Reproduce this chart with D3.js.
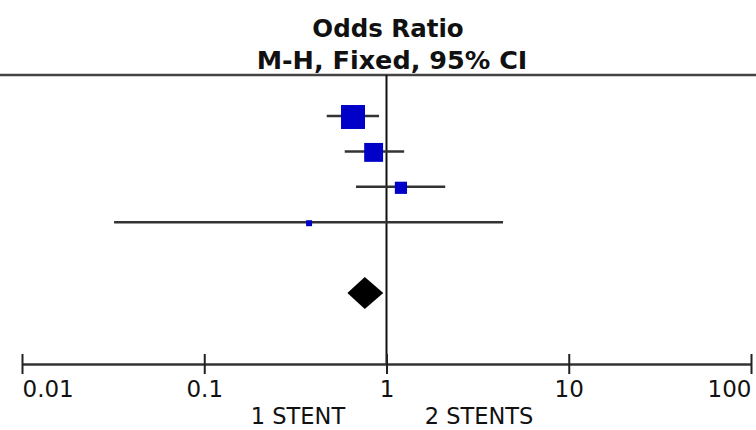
<!DOCTYPE html>
<html>
<head>
<meta charset="utf-8">
<script src="https://cdn.jsdelivr.net/npm/d3@7"></script>
<style>
  body { margin: 0; background: #fff; }
  svg text { font-family: "DejaVu Sans", sans-serif; fill: #111; }
</style>
</head>
<body>
<div id="viz"></div>
<script>
// study rows (odds ratio, 95% CI, weight %)
var studies = [1, 2, 3, 4];
var oddsRatio = [0.655, 0.85, 1.20, 0.376];
var lower = [0.47, 0.59, 0.68, 0.032];
var upper = [0.91, 1.25, 2.10, 4.36];
var weight = [51.5, 32.0, 13.3, 3.2];

// pooled estimate
var pooled = {or: 0.76, lo: 0.61, hi: 0.96};

var tickValues = [0.01, 0.1, 1, 10, 100];
var tickLabels = ["0.01", "0.1", "1", "10", "100"];
var favours = ["1 STENT", "2 STENTS"];

var w = 756, h = 430;

var svg = d3.select("#viz")
            .append("svg")
            .attr("width", w)
            .attr("height", h);

var x = d3.scaleLog().domain([0.01, 100]).range([22, 751]);
var y = d3.scaleLinear().domain([0, 5]).range([116, 293]);
var size = d3.scaleSqrt().domain([0, 100]).range([0, 33.4]);

var axisY = 364;
var headY = 75;

// titles
svg.append("text")
    .attr("x", 388).attr("y", 37)
    .attr("text-anchor", "middle")
    .attr("font-size", "24.5px")
    .attr("font-weight", "bold")
    .text("Odds Ratio");

svg.append("text")
    .attr("x", 392).attr("y", 69)
    .attr("text-anchor", "middle")
    .attr("font-size", "25.5px")
    .attr("font-weight", "bold")
    .text("M-H, Fixed, 95% CI");

// header rule
svg.append("line")
    .attr("x1", 0).attr("x2", w)
    .attr("y1", headY).attr("y2", headY)
    .attr("stroke", "#444")
    .attr("stroke-width", 2.5);

// line of no effect
svg.append("line")
    .attr("x1", x(1)).attr("x2", x(1))
    .attr("y1", headY).attr("y2", axisY)
    .attr("stroke", "#111")
    .attr("stroke-width", 2);

// confidence intervals
svg.selectAll("line.ci")
    .data(studies)
    .enter()
    .append("line")
    .attr("class", "ci")
    .attr("x1", function(d, i) { return x(lower[i]); })
    .attr("x2", function(d, i) { return x(upper[i]); })
    .attr("y1", function(d, i) { return y(i); })
    .attr("y2", function(d, i) { return y(i); })
    .attr("stroke", "#333")
    .attr("stroke-width", 2.5);

// weight squares
svg.selectAll("rect.box")
    .data(studies)
    .enter()
    .append("rect")
    .attr("class", "box")
    .attr("x", function(d, i) { return x(oddsRatio[i]) - size(weight[i]) / 2; })
    .attr("y", function(d, i) { return y(i) - size(weight[i]) / 2 + 1; })
    .attr("width", function(d, i) { return size(weight[i]); })
    .attr("height", function(d, i) { return size(weight[i]); })
    .attr("fill", "#0000c8");

// pooled diamond
var dy = y(5), hh = 16;
svg.append("polygon")
    .attr("points", [
        [x(pooled.lo), dy],
        [x(pooled.or), dy - hh],
        [x(pooled.hi), dy],
        [x(pooled.or), dy + hh]
    ].join(" "))
    .attr("fill", "#000");

// axis
var axis = d3.axisBottom(x)
    .tickValues(tickValues)
    .tickSize(0)
    .tickFormat(function(d, i) { return tickLabels[i]; });

var g = svg.append("g")
    .attr("transform", "translate(0," + axisY + ")")
    .call(axis);

g.select(".domain")
    .attr("stroke", "#333")
    .attr("stroke-width", 2.5);

g.selectAll(".tick line").remove();
g.selectAll(".tick")
    .append("line")
    .attr("y1", -10).attr("y2", 10)
    .attr("stroke", "#222")
    .attr("stroke-width", 2);

g.selectAll(".tick text")
    .attr("y", 33)
    .attr("dy", 0)
    .attr("font-size", "23px")
    .attr("font-family", "DejaVu Sans, sans-serif")
    .attr("fill", "#222")
    .attr("text-anchor", function(d, i) {
        return i === 0 ? "start" : (i === tickValues.length - 1 ? "end" : "middle");
    });

// favours labels
svg.append("text")
    .attr("x", 298).attr("y", 424)
    .attr("text-anchor", "middle")
    .attr("font-size", "22.5px")
    .text(favours[0]);

svg.append("text")
    .attr("x", 479).attr("y", 424)
    .attr("text-anchor", "middle")
    .attr("font-size", "22.5px")
    .text(favours[1]);
</script>
</body>
</html>
